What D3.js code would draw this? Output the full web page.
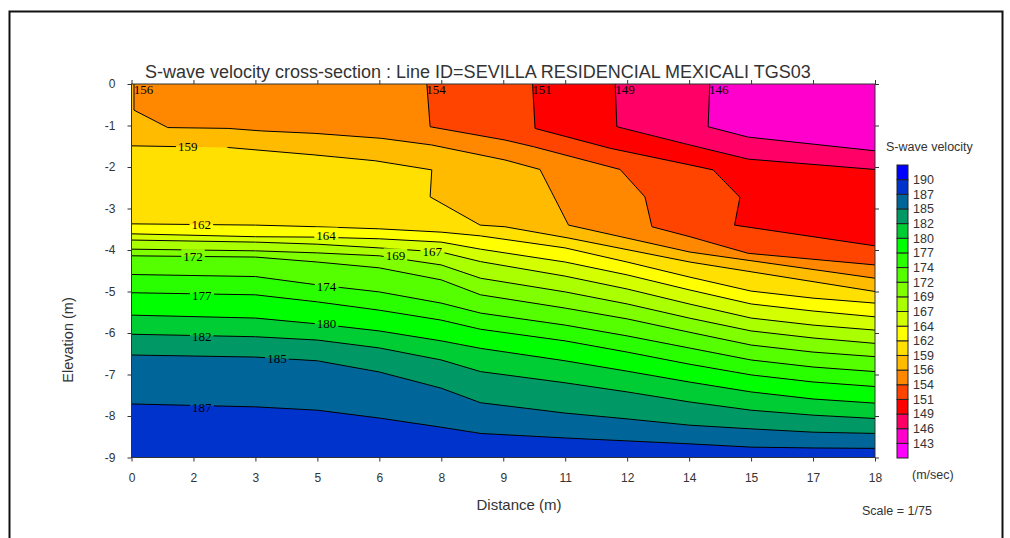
<!DOCTYPE html>
<html>
<head>
<meta charset="utf-8">
<script src="https://cdn.jsdelivr.net/npm/d3@7"></script>
<style>
  body { margin: 0; background: #fff; }
  svg { display: block; font-family: "Liberation Sans", Arial, sans-serif; }
</style>
</head>
<body>
<svg id="chart" width="1010" height="538"></svg>
<script>
// axis ticks (distance in m, elevation in m)
const xTickValues = [0, 1.5, 3, 4.5, 6, 7.5, 9, 10.5, 12, 13.5, 15, 16.5, 18];
const xTickLabels = ["0", "2", "3", "5", "6", "8", "9", "11", "12", "14", "15", "17", "18"];
const yTickValues = [0, -1, -2, -3, -4, -5, -6, -7, -8, -9];

// contour levels (m/sec), and the colour of each band, lowest band first (<143 ... >190)
const levels = [143, 146, 149, 151, 154, 156, 159, 162, 164, 167, 169, 172, 174, 177, 180, 182, 185, 187, 190];
const bandColors = ["#ff00ff", "#ff00cc", "#ff0066", "#ff0000", "#ff4400", "#ff8800", "#ffbb00", "#ffe000",
  "#ffff00", "#d4ff00", "#aaff00", "#80ff00", "#55ff00", "#2aff00", "#00ff00", "#00cc33", "#009966",
  "#006699", "#0033cc", "#0000ff"];

// isolines: [distance, elevation]
const iso146 = [[14.0, 0], [13.96, -1.03], [14.93, -1.28], [18, -1.61]];
const iso149 = [[11.71, 0], [11.75, -1.03], [13.52, -1.47], [14.93, -1.81], [18, -2.06]];
const iso151 = [[9.71, 0], [9.77, -1.07], [11.59, -1.55], [13.52, -1.95], [14.08, -2.07], [14.73, -2.73], [14.6, -3.4], [18, -3.9]];
const iso154 = [[7.15, 0], [7.23, -1.03], [9.04, -1.35], [9.73, -1.51], [11.83, -2.06], [12.43, -2.72], [12.6, -3.44], [13.52, -3.68], [14.93, -4.08], [18, -4.36]];
const iso156 = [[0.06, 0], [0.06, -0.63], [0.88, -1.05], [2.34, -1.07], [3.14, -1.13], [4.44, -1.19], [6.06, -1.31], [7.27, -1.47], [9.04, -1.83], [9.89, -2.06], [10.58, -3.4], [13.52, -4.05], [18, -4.68]];
const iso159 = [[0, -1.49], [2.34, -1.53], [4.44, -1.71], [5.9, -1.85], [7.27, -2.07], [7.23, -2.72], [8.44, -3.4], [9.04, -3.44], [10.57, -3.71], [13.52, -4.29], [18, -5.0]];
const iso162 = [[0, -3.37], [3, -3.40], [4.5, -3.44], [6, -3.49], [7.5, -3.57], [8.45, -3.66], [10.5, -3.95], [12, -4.29], [13.5, -4.65], [15, -4.99], [16.5, -5.16], [18, -5.28]];
const iso164 = [[0, -3.61], [3, -3.68], [4.5, -3.69], [6, -3.73], [7.5, -3.81], [8.45, -3.98], [10.5, -4.29], [12, -4.60], [13.5, -4.96], [15, -5.30], [16.5, -5.47], [18, -5.61]];
const iso167 = [[0, -3.76], [3, -3.81], [4.5, -3.86], [6, -3.95], [7.5, -4.05], [8.45, -4.28], [10.5, -4.63], [12, -4.94], [13.5, -5.30], [15, -5.64], [16.5, -5.81], [18, -5.93]];
const iso169 = [[0, -3.98], [3, -4.02], [4.5, -4.07], [6, -4.14], [7.5, -4.36], [8.45, -4.68], [10.5, -5.01], [12, -5.30], [13.5, -5.64], [15, -5.95], [16.5, -6.12], [18, -6.25]];
const iso172 = [[0, -4.14], [3, -4.17], [4.5, -4.29], [6, -4.43], [7.5, -4.72], [8.45, -5.08], [10.5, -5.40], [12, -5.66], [13.5, -5.98], [15, -6.29], [16.5, -6.46], [18, -6.57]];
const iso174 = [[0, -4.59], [3, -4.64], [4.5, -4.84], [6, -5.01], [7.5, -5.28], [8.45, -5.52], [10.5, -5.81], [12, -6.07], [13.5, -6.36], [15, -6.65], [16.5, -6.82], [18, -6.93]];
const iso177 = [[0, -5.03], [3, -5.08], [4.5, -5.25], [6, -5.45], [7.5, -5.69], [8.45, -5.91], [10.5, -6.19], [12, -6.46], [13.5, -6.75], [15, -7.01], [16.5, -7.18], [18, -7.29]];
const iso180 = [[0, -5.57], [3, -5.64], [4.5, -5.78], [6, -5.95], [7.5, -6.19], [8.45, -6.37], [10.5, -6.67], [12, -6.92], [13.5, -7.18], [15, -7.42], [16.5, -7.59], [18, -7.69]];
const iso182 = [[0, -6.03], [3, -6.09], [4.5, -6.17], [6, -6.36], [7.5, -6.65], [8.45, -6.93], [10.5, -7.20], [12, -7.42], [13.5, -7.66], [15, -7.86], [16.5, -7.98], [18, -8.06]];
const iso185 = [[0, -6.53], [3, -6.58], [4.5, -6.67], [6, -6.94], [7.5, -7.33], [8.45, -7.68], [10.5, -7.93], [12, -8.07], [13.5, -8.22], [15, -8.31], [16.5, -8.39], [18, -8.42]];
const iso187 = [[0, -7.71], [3, -7.78], [4.5, -7.86], [6, -8.05], [7.5, -8.27], [8.45, -8.42], [10.5, -8.53], [12, -8.60], [13.5, -8.67], [15, -8.75], [16.5, -8.77], [18, -8.78]];

// contour label values and where they sit: [distance, elevation]
const labelValues = [156, 154, 151, 149, 146, 159, 162, 172, 164, 169, 167, 177, 174, 180, 182, 185, 187];
const labelSpots = [[0.29, -0.14], [7.37, -0.14], [9.94, -0.14], [11.95, -0.14], [14.22, -0.14], [1.36, -1.51], [1.69, -3.39],
  [1.49, -4.16], [4.71, -3.64], [6.39, -4.14], [7.28, -4.04], [1.70, -5.10], [4.72, -4.88], [4.72, -5.77], [1.70, -6.09],
  [3.52, -6.62], [1.70, -7.79]];

// painted from the bottom up, each one covers what lies above its line
const isolines = [[187, iso187], [185, iso185], [182, iso182], [180, iso180], [177, iso177], [174, iso174],
  [172, iso172], [169, iso169], [167, iso167], [164, iso164], [162, iso162], [159, iso159], [156, iso156],
  [154, iso154], [151, iso151], [149, iso149], [146, iso146]];

const svg = d3.select("#chart");
const plot = { left: 131.5, right: 875, top: 84, bottom: 457.5 };

const x = d3.scaleLinear().domain([0, 18]).range([plot.left, plot.right]);
const y = d3.scaleLinear().domain([0, -9]).range([plot.top, plot.bottom]);

// outer frame
svg.append("rect")
  .attr("x", 9.5).attr("y", 11.5).attr("width", 993).attr("height", 540)
  .attr("fill", "none").attr("stroke", "#111").attr("stroke-width", 2);

svg.append("text")
  .attr("x", 145).attr("y", 77.5)
  .attr("font-size", 18).attr("fill", "#333")
  .text("S-wave velocity cross-section : Line ID=SEVILLA RESIDENCIAL MEXICALI TGS03");

const defs = svg.append("defs");
defs.append("clipPath").attr("id", "plotClip")
  .append("rect")
  .attr("x", plot.left).attr("y", plot.top)
  .attr("width", plot.right - plot.left).attr("height", plot.bottom - plot.top);

const body = svg.append("g").attr("clip-path", "url(#plotClip)");

// base band (187-190)
body.append("rect")
  .attr("x", plot.left).attr("y", plot.top)
  .attr("width", plot.right - plot.left).attr("height", plot.bottom - plot.top)
  .attr("fill", bandColors[levels.indexOf(187) + 1]);

const area = d3.line().x(d => x(d[0])).y(d => y(d[1]));

isolines.forEach(([lv, pts]) => {
  const poly = pts[0][1] === 0 ? pts.concat([[18, 0]]) : pts.concat([[18, 0], [0, 0]]);
  body.append("path")
    .attr("d", area(poly) + "Z")
    .attr("fill", bandColors[levels.indexOf(lv)]);
});

// contour lines, with gaps where the labels sit
const mask = defs.append("mask").attr("id", "labelGaps").attr("maskUnits", "userSpaceOnUse");
mask.append("rect").attr("x", 0).attr("y", 0).attr("width", 1010).attr("height", 538).attr("fill", "#fff");

const lines = body.append("g").attr("mask", "url(#labelGaps)");
isolines.forEach(([lv, pts]) => {
  lines.append("path")
    .attr("d", area(pts))
    .attr("fill", "none").attr("stroke", "#000").attr("stroke-width", 1);
});

const labels = body.append("g")
  .attr("font-family", "'Liberation Serif', 'Times New Roman', serif")
  .attr("font-size", 13).attr("fill", "#000");
labelValues.forEach((v, i) => {
  const [d, e] = labelSpots[i];
  const t = labels.append("text")
    .attr("x", x(d)).attr("y", y(e)).attr("dy", "0.35em")
    .attr("text-anchor", "middle")
    .text(v);
  if (e < -0.5) {
    const b = t.node().getBBox();
    const extra = v === 159 ? 28 : 0;
    mask.append("rect")
      .attr("x", b.x - 2).attr("y", b.y)
      .attr("width", b.width + 4 + extra).attr("height", b.height)
      .attr("fill", "#000");
  }
});

// plot frame
svg.append("rect")
  .attr("x", plot.left).attr("y", plot.top)
  .attr("width", plot.right - plot.left).attr("height", plot.bottom - plot.top)
  .attr("fill", "none").attr("stroke", "#333").attr("stroke-width", 1);

// axes, ticks on all four sides
function styleAxis(g) {
  g.select(".domain").remove();
  g.selectAll("line").attr("stroke", "#333");
  g.selectAll("text").attr("fill", "#333").attr("font-size", 12).attr("font-family", "'Liberation Sans', Arial, sans-serif");
}

svg.append("g")
  .attr("transform", `translate(0,${plot.bottom})`)
  .call(d3.axisBottom(x).tickValues(xTickValues).tickFormat((d, i) => xTickLabels[i]).tickSize(4).tickPadding(12))
  .call(styleAxis);

svg.append("g")
  .attr("transform", `translate(0,${plot.top})`)
  .call(d3.axisTop(x).tickValues(xTickValues).tickFormat("").tickSize(4))
  .call(styleAxis);

svg.append("g")
  .attr("transform", `translate(${plot.left},0)`)
  .call(d3.axisLeft(y).tickValues(yTickValues).tickFormat(d => String(d)).tickSize(4).tickPadding(12))
  .call(styleAxis);

svg.append("g")
  .attr("transform", `translate(${plot.right},0)`)
  .call(d3.axisRight(y).tickValues(yTickValues).tickFormat("").tickSize(4))
  .call(styleAxis);

svg.append("text")
  .attr("x", 519).attr("y", 510)
  .attr("text-anchor", "middle").attr("font-size", 15).attr("fill", "#333")
  .text("Distance (m)");

svg.append("text")
  .attr("transform", "translate(73,340) rotate(-90)")
  .attr("text-anchor", "middle").attr("font-size", 14.5).attr("fill", "#333")
  .text("Elevation (m)");

// colour legend
const legendTop = 165, legendBottom = 458, legendX = 897, legendW = 11;
const nBands = bandColors.length;
const ly = d3.scaleLinear().domain([nBands, 0]).range([legendTop, legendBottom]);

svg.append("text")
  .attr("x", 886).attr("y", 151)
  .attr("font-size", 12.5).attr("fill", "#333")
  .text("S-wave velocity");

const legend = svg.append("g");
legend.selectAll("rect.band")
  .data(bandColors)
  .join("rect")
  .attr("class", "band")
  .attr("x", legendX).attr("y", (c, i) => ly(i + 1))
  .attr("width", legendW).attr("height", (c, i) => ly(i) - ly(i + 1))
  .attr("fill", c => c)
  .attr("stroke", "#222").attr("stroke-width", 1);

legend.selectAll("text")
  .data(levels)
  .join("text")
  .attr("x", legendX + legendW + 5)
  .attr("y", (v, i) => ly(i + 1))
  .attr("dy", "0.35em")
  .attr("font-size", 12.5).attr("fill", "#333")
  .text(v => v);

svg.append("text")
  .attr("x", 912).attr("y", 479)
  .attr("font-size", 12.5).attr("fill", "#333")
  .text("(m/sec)");

svg.append("text")
  .attr("x", 862).attr("y", 515)
  .attr("font-size", 12.5).attr("fill", "#333")
  .text("Scale = 1/75");
</script>
</body>
</html>
